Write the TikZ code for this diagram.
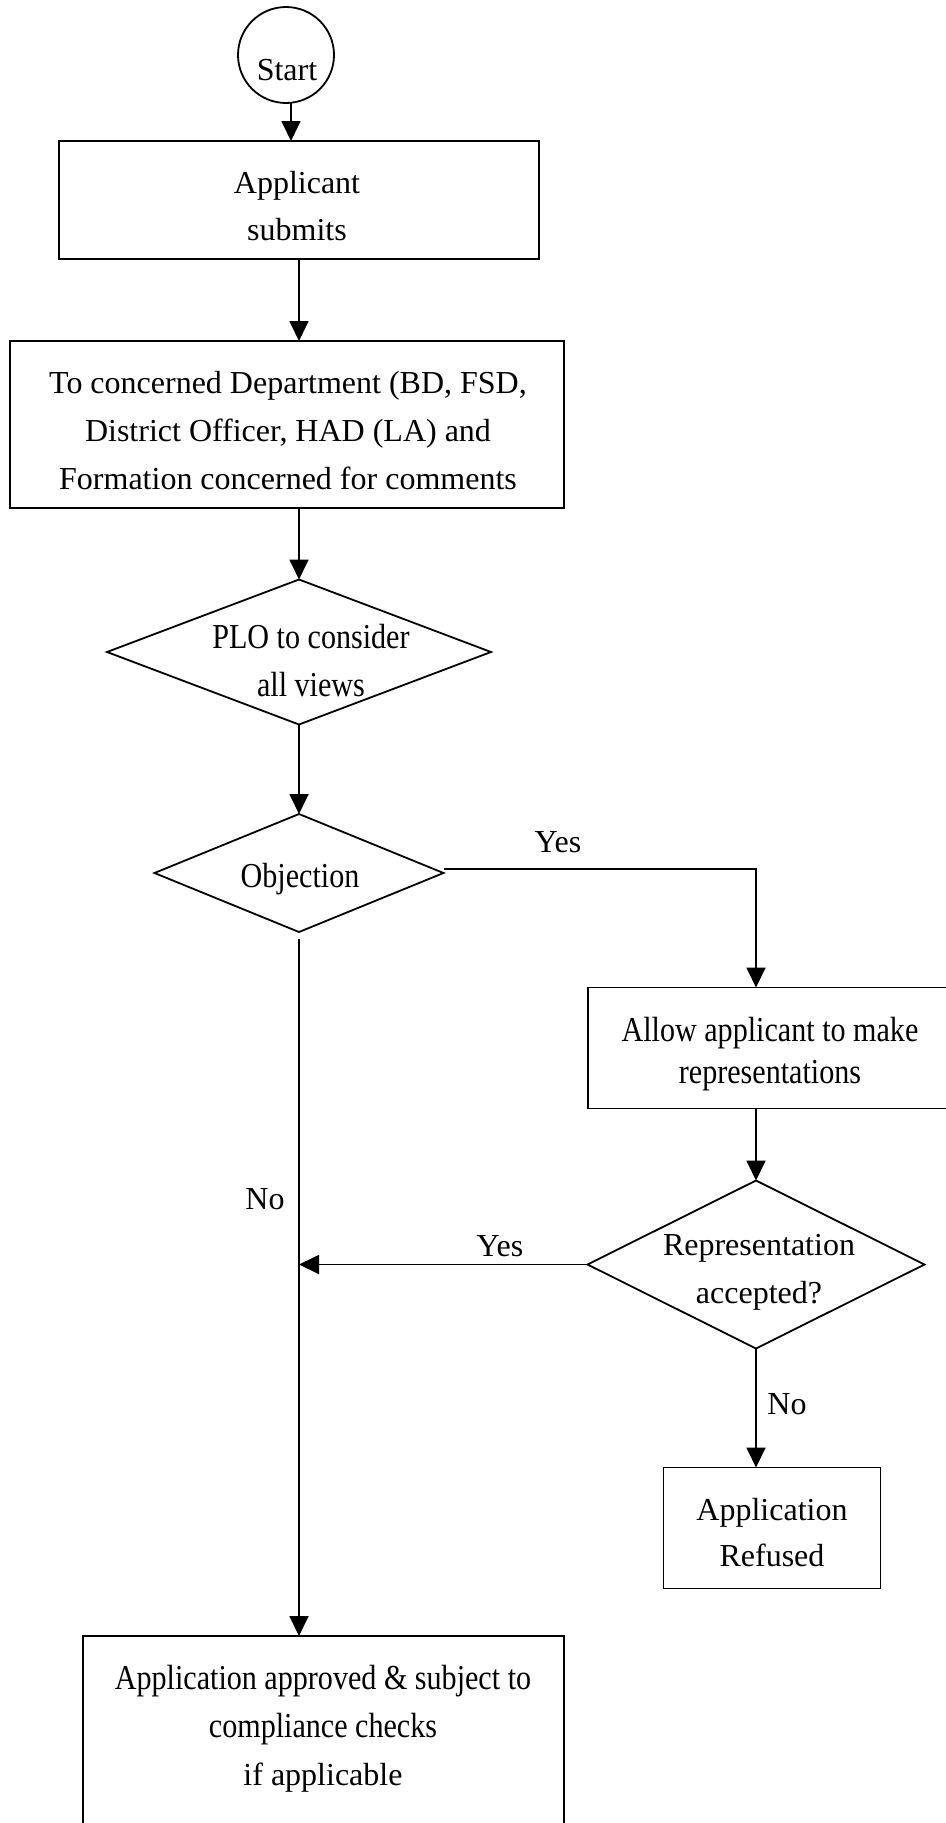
\documentclass[tikz,border=0pt]{standalone}
\usepackage{fontspec}
\setmainfont{Liberation Serif}
\newfontfamily\condfont[FakeStretch=0.86]{Liberation Serif}
\newcommand\condsz{\condfont\fontsize{35}{48}\selectfont}
\usetikzlibrary{shapes.geometric,arrows.meta}
\begin{document}
\begin{tikzpicture}[x=1pt,y=-1pt,
  every node/.style={inner sep=0pt, outer sep=0pt},
  box/.style={draw, rectangle, line width=1.8pt},
  dia/.style={draw, diamond, line width=1.8pt},
  txt/.style={font=\fontsize{32}{47}\selectfont, align=center},
  ctxt/.style={font=\condsz, align=center},
  arr/.style={line width=1.8pt, -{Triangle[length=20pt,width=19pt]}},
  ln/.style={line width=1.8pt}]
\path[fill=white, use as bounding box] (0,0) rectangle (945,1823);

% nodes
\node[draw, circle, minimum size=96pt, line width=1.8pt] (start) at (286,55) {};
\node[txt] (starttxt) at (287,70) {Start};

\node[box, minimum width=480pt, minimum height=118pt] (submit) at (299,200) {};
\node[txt] (submittxt) at (297,206) {Applicant\\submits};

\node[box, minimum width=554pt, minimum height=167pt] (dept) at (287,424.5) {};
\node[font=\fontsize{32}{48}\selectfont, align=center] (depttxt) at (288,431) {To concerned Department (BD, FSD,\\District Officer, HAD (LA) and\\Formation concerned for comments};

\node[dia, minimum width=384pt, minimum height=145pt] (plo) at (299,652) {};
\node[font=\condfont\fontsize{35}{48}\selectfont, align=center] (plotxt) at (311,661) {PLO to consider\\all views};

\node[dia, minimum width=289pt, minimum height=118pt] (obj) at (299,873) {};
\node[ctxt] (objtxt) at (300,879) {Objection};

\node[box, minimum width=366pt, minimum height=121pt] (allow) at (771,1048) {};
\node[font=\condfont\fontsize{35}{42}\selectfont, align=center] (allowtxt) at (770,1054) {Allow applicant to make\\representations};

\node[dia, minimum width=337pt, minimum height=168pt] (rep) at (756,1264.5) {};
\node[font=\fontsize{32}{48}\selectfont, align=center] (reptxt) at (759,1272) {Representation\\accepted?};

\node[box, minimum width=217pt, minimum height=121pt] (refused) at (772,1528) {};
\node[font=\fontsize{32}{46}\selectfont, align=center] (refusedtxt) at (772,1533) {Application\\Refused};

\node[box, minimum width=481pt, minimum height=208pt] (approve) at (323.5,1740) {};
\node[font=\fontsize{32}{48}\selectfont, align=center] (approvetxt) at (323,1729) {{\condsz Application approved \& subject to}\\{\condsz compliance checks}\\if applicable};

% labels
\node[txt] (yes1) at (558,842) {Yes};
\node[txt] (yes2) at (500,1246) {Yes};
\node[txt] (no1) at (265,1199) {No};
\node[txt] (no2) at (787,1404) {No};

% connectors
\coordinate (startout) at ([xshift=5pt]start.south);
\draw[arr] (startout) -- (startout |- submit.north);
\draw[arr] (submit.south) -- (submit.south |- dept.north);
\draw[arr] (plo.north |- dept.south) -- (plo.north);
\draw[arr] (plo.south) -- (obj.north);
\coordinate (objyes) at ([yshift=4pt]obj.east);
\draw[arr] (objyes) -| (allow.north -| rep.center);
\draw[arr] (allow.south -| rep.center) -- (rep.north);
\draw[arr] (rep.west) -- (rep.west -| obj.south);
\coordinate (objout) at ([yshift=-7pt]obj.south);
\draw[arr] (objout) -- (objout |- approve.north);
\draw[arr] (rep.south) -- (rep.south |- refused.north);
\end{tikzpicture}
\end{document}
